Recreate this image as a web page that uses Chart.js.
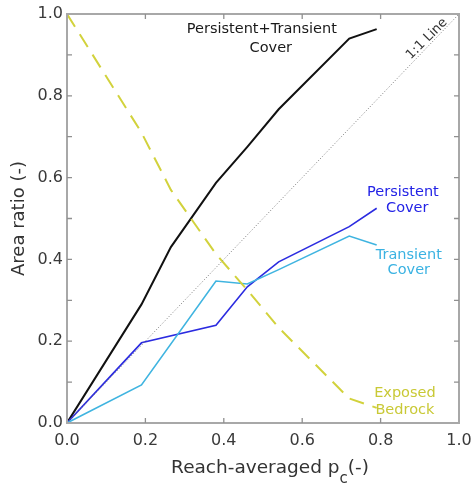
<!DOCTYPE html>
<html>
<head>
<meta charset="utf-8">
<script src="https://cdn.jsdelivr.net/npm/chart.js@4"></script>
<style>
  html, body { margin: 0; padding: 0; background: #fff; }
  #wrap { width: 476px; height: 491px; position: relative; }
</style>
</head>
<body>
<div id="wrap"><canvas id="c" width="476" height="491"></canvas></div>
<script>
// Reach-averaged cover fraction (x) for the summed cover and bedrock curves
const pcTotal = [0, 0.19, 0.265, 0.38, 0.46, 0.54, 0.72, 0.79];
const coverTotal = [0, 0.29, 0.43, 0.587, 0.675, 0.767, 0.94, 0.963];
const bedrockExposed = [1, 0.71, 0.57, 0.413, 0.325, 0.233, 0.06, 0.037];

// Reach-averaged cover fraction (x) for the individual cover curves
const pcCover = [0, 0.19, 0.38, 0.46, 0.54, 0.72, 0.79];
const persistentCover = [0, 0.196, 0.239, 0.333, 0.394, 0.48, 0.525];
const transientCover = [0, 0.093, 0.347, 0.34, 0.375, 0.457, 0.435];

// 1:1 reference line
const oneToOneX = [0, 1];
const oneToOneY = [0, 1];

const xTicks = [0, 0.2, 0.4, 0.6, 0.8, 1.0];
const yTicks = [0, 0.2, 0.4, 0.6, 0.8, 1.0];

const FONT = "'DejaVu Sans', Verdana, sans-serif";
const pts = (xs, ys) => xs.map((x, i) => ({ x, y: ys[i] }));

// Frame, inward tick marks, in-plot labels and the x-axis title
const decorations = {
  id: 'decorations',
  afterDatasetsDraw(chart) {
    const { ctx, chartArea: a, scales: { x, y } } = chart;
    ctx.save();
    ctx.strokeStyle = '#a8a8a8';
    ctx.lineWidth = 2;
    ctx.strokeRect(a.left, a.top, a.right - a.left, a.bottom - a.top);
    ctx.lineWidth = 1.3;
    ctx.strokeStyle = '#909090';
    const tl = 5;
    ctx.beginPath();
    for (let i = 1; i < 5; i++) {
      const px = x.getPixelForValue(xTicks[i]);
      ctx.moveTo(px, a.bottom); ctx.lineTo(px, a.bottom - tl);
      ctx.moveTo(px, a.top); ctx.lineTo(px, a.top + tl);
    }
    for (let v = 1; v < 10; v++) {
      const py = y.getPixelForValue(v / 10);
      ctx.moveTo(a.left, py); ctx.lineTo(a.left + tl, py);
      ctx.moveTo(a.right, py); ctx.lineTo(a.right - tl, py);
    }
    ctx.stroke();

    // series labels
    ctx.font = '14.5px ' + FONT;
    ctx.textAlign = 'center';
    ctx.textBaseline = 'middle';
    const label = (txt, vx, vy, color) => {
      ctx.fillStyle = color;
      ctx.fillText(txt, x.getPixelForValue(vx), y.getPixelForValue(vy));
    };
    label('Persistent+Transient', 0.497, 0.962, '#1a1a1a');
    label('Cover', 0.52, 0.917, '#1a1a1a');
    label('Persistent', 0.857, 0.563, '#2323e6');
    label('Cover', 0.868, 0.525, '#2323e6');
    label('Transient', 0.872, 0.411, '#3ab2e2');
    label('Cover', 0.872, 0.374, '#3ab2e2');
    label('Exposed', 0.862, 0.073, '#c9c936');
    label('Bedrock', 0.862, 0.032, '#c9c936');

    // rotated 1:1 label along the diagonal
    ctx.save();
    ctx.translate(x.getPixelForValue(0.918), y.getPixelForValue(0.939));
    ctx.rotate(-Math.PI / 4);
    ctx.fillStyle = '#333';
    ctx.font = '13px ' + FONT;
    ctx.fillText('1:1 Line', 0, 0);
    ctx.restore();

    // x-axis title with subscript
    ctx.fillStyle = '#333';
    ctx.textAlign = 'left';
    ctx.textBaseline = 'alphabetic';
    const main = 'Reach-averaged p';
    const sub = 'c';
    const tail = '(-)';
    ctx.font = '18.5px ' + FONT;
    const wMain = ctx.measureText(main).width;
    const wTail = ctx.measureText(tail).width;
    ctx.font = '15px ' + FONT;
    const wSub = ctx.measureText(sub).width;
    const total = wMain + wSub + wTail;
    const sx = (a.left + a.right) / 2 + 7 - total / 2;
    const base = 473;
    ctx.font = '18.5px ' + FONT;
    ctx.fillText(main, sx, base);
    ctx.font = '15px ' + FONT;
    ctx.fillText(sub, sx + wMain, base + 10);
    ctx.font = '18.5px ' + FONT;
    ctx.fillText(tail, sx + wMain + wSub, base);
    ctx.restore();
  }
};

new Chart(document.getElementById('c'), {
  type: 'line',
  data: {
    datasets: [
      {
        label: '1:1 Line',
        data: pts(oneToOneX, oneToOneY),
        borderColor: '#777',
        borderWidth: 1,
        borderDash: [1, 2],
        pointRadius: 0,
        tension: 0
      },
      {
        label: 'Exposed Bedrock',
        data: pts(pcTotal, bedrockExposed),
        borderColor: '#d2d23c',
        borderWidth: 2,
        borderDash: [15, 9],
        pointRadius: 0,
        tension: 0
      },
      {
        label: 'Transient Cover',
        data: pts(pcCover, transientCover),
        borderColor: '#3fb4e0',
        borderWidth: 1.6,
        pointRadius: 0,
        tension: 0
      },
      {
        label: 'Persistent Cover',
        data: pts(pcCover, persistentCover),
        borderColor: '#2b2be0',
        borderWidth: 1.6,
        pointRadius: 0,
        tension: 0
      },
      {
        label: 'Persistent+Transient Cover',
        data: pts(pcTotal, coverTotal),
        borderColor: '#111',
        borderWidth: 2,
        pointRadius: 0,
        tension: 0
      }
    ]
  },
  options: {
    responsive: false,
    animation: false,
    devicePixelRatio: 1,
    layout: { padding: { left: 0, top: 14, right: 17, bottom: 0 } },
    plugins: {
      legend: { display: false },
      tooltip: { enabled: false }
    },
    scales: {
      x: {
        type: 'linear',
        min: 0, max: 1,
        afterFit: s => { s.height = 68; s.paddingLeft = 13; s.paddingRight = 13; },
        afterBuildTicks: s => { s.ticks = xTicks.map(v => ({ value: v })); },
        ticks: {
          callback: v => v.toFixed(1),
          font: { size: 16, family: FONT },
          color: '#3a3a3a',
          padding: 8,
          maxRotation: 0
        },
        grid: { display: false, drawTicks: false },
        border: { display: false }
      },
      y: {
        type: 'linear',
        min: 0, max: 1,
        afterFit: s => { s.width = 67; },
        afterBuildTicks: s => { s.ticks = yTicks.map(v => ({ value: v })); },
        ticks: {
          callback: v => v.toFixed(1),
          font: { size: 16, family: FONT },
          color: '#3a3a3a',
          padding: 4
        },
        grid: { display: false, drawTicks: false },
        border: { display: false },
        title: {
          display: true,
          text: 'Area ratio (-)',
          font: { size: 18, family: FONT },
          color: '#333',
          padding: { top: 9, bottom: 0 }
        }
      }
    }
  },
  plugins: [decorations]
});
</script>
</body>
</html>
